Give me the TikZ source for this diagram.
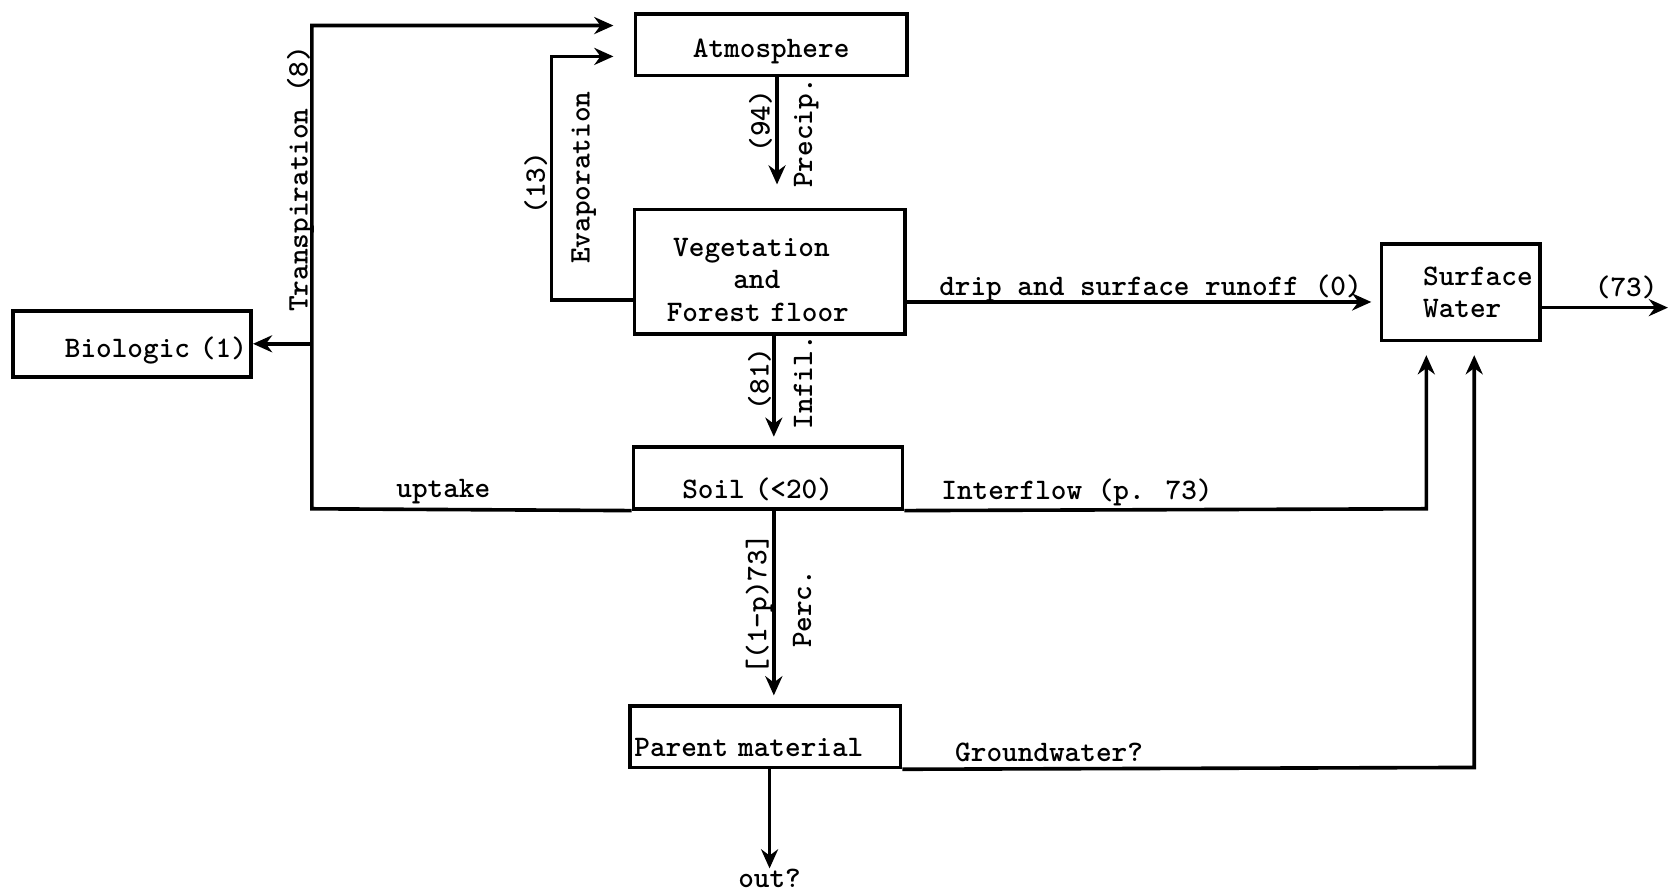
\documentclass[tikz,border=0pt]{standalone}
\usetikzlibrary{arrows.meta,calc}
\begin{document}
{\ttfamily\bfseries\fontsize{14}{15.25}\selectfont\fontdimen3\font=0pt\fontdimen4\font=0pt}%
\begin{tikzpicture}[x=0.5pt,y=-0.5pt,
  font=\ttfamily\bfseries\fontsize{14}{15.25}\selectfont,
  box/.style={draw, line width=1.7pt, inner sep=0pt},
  flow/.style={draw, line width=1.7pt, -{Stealth[length=9pt,width=8pt]}},
  vlab/.style={rotate=90, anchor=base, inner sep=0pt},
  hlab/.style={anchor=base west, inner sep=0pt},
]
\useasboundingbox (0,0) rectangle (1568,839);

% boxes
\node[box, minimum width=127.5pt, minimum height=29pt, text height=12.4pt, text depth=0pt] (atm) at (724.5,42) {Atmosphere};
\node[box, minimum width=127pt, minimum height=58.5pt, text width=127pt, align=center] (veg) at (723,255.5) {\hspace*{-17pt}\rule{0pt}{16pt}Vegetation\\\hspace*{-12pt}and\\\hspace*{-11pt}Forest floor};
\node[box, minimum width=74.5pt, minimum height=45.5pt, text width=74.5pt, align=left] (sw) at (1372.5,274.5) {\hspace*{19.5pt}Surface\\\hspace*{19.5pt}Water};
\node[box, minimum width=112pt, minimum height=31pt, inner xsep=2pt, text width=108pt, align=right, text height=12.4pt, text depth=0pt] (bio) at (124,323) {Biologic (1)};
\node[box, minimum width=126.5pt, minimum height=29pt, text width=126.5pt, align=left, text height=19pt, text depth=0pt] (soil) at (721.5,449) {\hspace*{23pt}Soil (<20)};
\node[box, minimum width=127pt, minimum height=29pt, inner xsep=2pt, text width=123pt, align=left, text height=18.4pt, text depth=0pt] (pm) at (719,692) {Parent material};
\node[inner sep=0pt] (out) at (723,825) {out?};

% corners
\coordinate (upc) at (293,478);
\coordinate (trt) at (293,24);
\coordinate (evb) at (518,282);
\coordinate (evt) at (518,53);
\coordinate (ifc) at (1340,478);
\coordinate (gwc) at (1385,721);
\coordinate (o73) at (1567,289);
\coordinate (dr) at ($(veg.south east)+(0,-32)$);

% connectors
\draw[flow, shorten >=9.5pt] (soil.south west) -- (upc) -- (trt) -- (trt -| atm.west);
\draw[flow] (upc |- bio.east) -- (bio.east);
\draw[flow, shorten >=9.5pt] (veg.west |- evb) -- (evb) -- (evt) -- (evt -| atm.west);
\draw[flow, shorten >=11pt] ($(atm.south)+(5.5,0)$) -- ($(veg.north)+(7,0)$);
\draw[flow, shorten >=4pt] ($(veg.south)+(4,0)$) -- ($(soil.north)+(5.5,0)$);
\draw[flow, shorten >=4pt] ($(soil.south)+(5.5,0)$) -- ($(pm.north)+(8,0)$);
\draw[flow] ($(pm.south)+(4,0)$) -- (out.north);
\draw[flow, shorten >=4pt] (dr) -- (dr -| sw.west);
\draw[flow] (o73 -| sw.east) -- (o73);
\draw[flow, shorten >=6pt] (soil.south east) -- (ifc) -- (ifc |- sw.south);
\draw[flow, shorten >=6pt] (pm.south east) -- (gwc) -- (gwc |- sw.south);

% labels
\node[vlab] (ltr) at (289,168) {Transpiration (8)};
\node[vlab] (l13) at (512,172) {(13)};
\node[vlab] (lev) at (554,167) {Evaporation};
\node[vlab] (l94) at (723,114) {(94)};
\node[vlab] (lpr) at (763,125) {Precip.};
\node[vlab] (l81) at (722,356) {(81)};
\node[vlab] (lin) at (763,359) {Infil.};
\node[vlab] (l73p) at (720,568) {[(1-p)73]};
\node[vlab] (lpe) at (762,572) {Perc.};
\node[hlab] (ldr) at (882,278) {drip and surface runoff (0)};
\node[hlab] (l73) at (1498,279) {(73)};
\node[hlab] (lup) at (372,467) {uptake};
\node[hlab] (lif) at (884,469) {Interflow (p. 73)};
\node[hlab] (lgw) at (897,715) {Groundwater?};
\end{tikzpicture}
\end{document}
